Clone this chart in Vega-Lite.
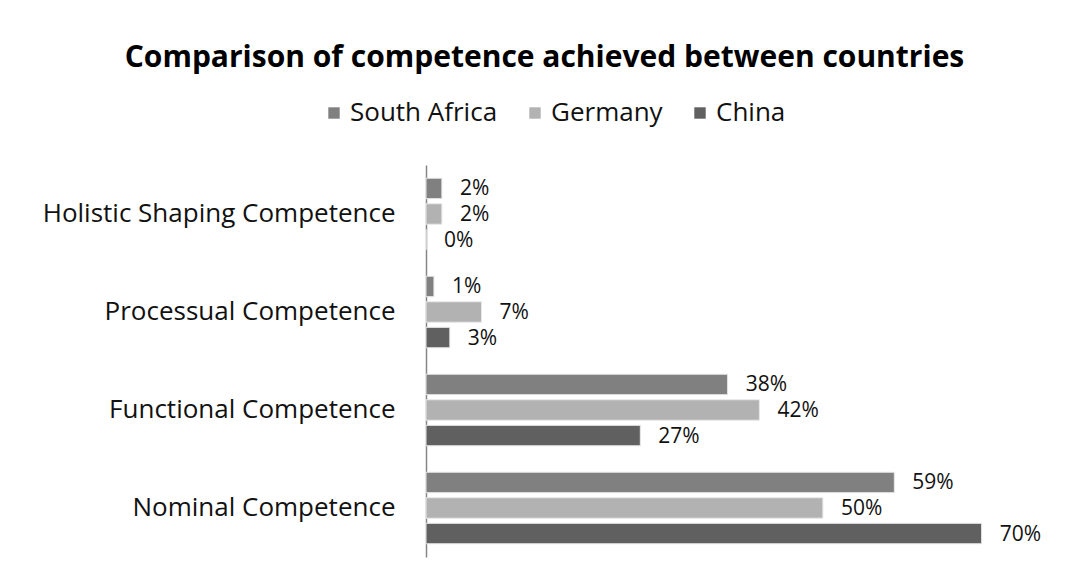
{
  "$schema": "https://vega.github.io/schema/vega-lite/v6.json",
  "autosize": "none",
  "width": 635,
  "height": 392,
  "padding": {"left": 426, "top": 165, "right": 21, "bottom": 24},
  "background": "white",
  "title": {
    "text": "Comparison of competence achieved between countries",
    "font": "Open Sans",
    "fontSize": 30,
    "fontWeight": "bold",
    "color": "#000000",
    "anchor": "middle",
    "dx": -199,
    "offset": 27
  },
  "data": {
    "values": [
      {"competence": "Holistic Shaping Competence", "country": "South Africa", "value": 0.02},
      {"competence": "Holistic Shaping Competence", "country": "Germany", "value": 0.02},
      {"competence": "Holistic Shaping Competence", "country": "China", "value": 0.0},
      {"competence": "Processual Competence", "country": "South Africa", "value": 0.01},
      {"competence": "Processual Competence", "country": "Germany", "value": 0.07},
      {"competence": "Processual Competence", "country": "China", "value": 0.03},
      {"competence": "Functional Competence", "country": "South Africa", "value": 0.38},
      {"competence": "Functional Competence", "country": "Germany", "value": 0.42},
      {"competence": "Functional Competence", "country": "China", "value": 0.27},
      {"competence": "Nominal Competence", "country": "South Africa", "value": 0.59},
      {"competence": "Nominal Competence", "country": "Germany", "value": 0.5},
      {"competence": "Nominal Competence", "country": "China", "value": 0.7}
    ]
  },
  "encoding": {
    "y": {
      "field": "competence",
      "type": "nominal",
      "sort": ["Holistic Shaping Competence", "Processual Competence", "Functional Competence", "Nominal Competence"],
      "scale": {"paddingInner": 0.27, "paddingOuter": 0.135},
      "axis": {
        "title": null,
        "ticks": false,
        "domainColor": "#868686",
        "domainWidth": 1.5,
        "labelFont": "Open Sans",
        "labelFontSize": 26,
        "labelColor": "#111111",
        "labelPadding": 31,
        "labelLimit": 420
      }
    },
    "yOffset": {
      "field": "country",
      "type": "nominal",
      "sort": ["South Africa", "Germany", "China"],
      "scale": {"paddingInner": 0.2, "paddingOuter": 0}
    },
    "x": {
      "field": "value",
      "type": "quantitative",
      "scale": {"domain": [0, 0.8], "nice": false},
      "axis": null
    }
  },
  "layer": [
    {
      "mark": {"type": "bar", "stroke": "#e8e8e8", "strokeWidth": 1},
      "encoding": {
        "color": {
          "field": "country",
          "type": "nominal",
          "sort": ["South Africa", "Germany", "China"],
          "scale": {"domain": ["South Africa", "Germany", "China"], "range": ["#808080", "#b2b2b2", "#606060"]},
          "legend": {
            "title": null,
            "orient": "none",
            "direction": "horizontal",
            "legendX": -105,
            "legendY": -65,
            "symbolType": "square",
            "symbolSize": 130,
            "symbolStrokeWidth": 0,
            "labelFont": "Open Sans",
            "labelFontSize": 26,
            "labelColor": "#111111",
            "columnPadding": 24,
            "labelOffset": 3
          }
        }
      }
    },
    {
      "mark": {"type": "text", "align": "left", "baseline": "middle", "dx": 18, "dy": 1, "font": "Open Sans", "fontSize": 21, "color": "#111111"},
      "encoding": {
        "text": {"field": "value", "type": "quantitative", "format": ".0%"}
      }
    }
  ],
  "config": {"view": {"stroke": null}}
}
